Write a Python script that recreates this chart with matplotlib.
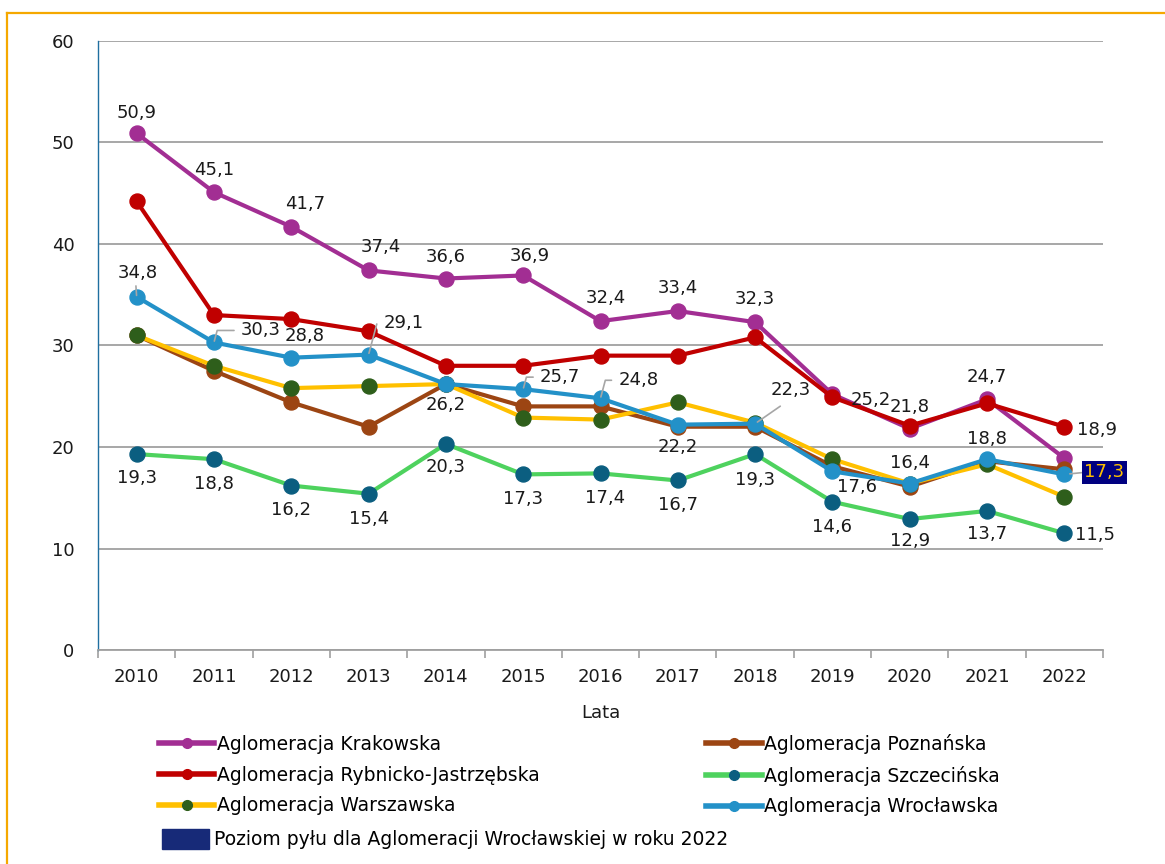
import matplotlib
matplotlib.use('Agg')
from matplotlib import pyplot as plt
from matplotlib.lines import Line2D
from matplotlib.patches import Patch
import numpy as np

plt.rcParams['font.family'] = ['DejaVu Sans']

# Data
years = [2010, 2011, 2012, 2013, 2014, 2015, 2016, 2017, 2018, 2019, 2020, 2021, 2022]
krakowska = [50.9, 45.1, 41.7, 37.4, 36.6, 36.9, 32.4, 33.4, 32.3, 25.2, 21.8, 24.7, 18.9]
rybnicko = [44.2, 33.0, 32.6, 31.4, 28.0, 28.0, 29.0, 29.0, 30.8, 24.9, 22.1, 24.3, 22.0]
poznanska = [31.0, 27.5, 24.4, 22.0, 26.2, 24.0, 24.0, 22.0, 22.0, 18.1, 16.1, 18.6, 17.8]
szczecinska = [19.3, 18.8, 16.2, 15.4, 20.3, 17.3, 17.4, 16.7, 19.3, 14.6, 12.9, 13.7, 11.5]
warszawska = [31.0, 28.0, 25.8, 26.0, 26.2, 22.9, 22.7, 24.4, 22.4, 18.8, 16.4, 18.3, 15.1]
wroclawska = [34.8, 30.3, 28.8, 29.1, 26.2, 25.7, 24.8, 22.2, 22.3, 17.6, 16.4, 18.8, 17.3]

# label offsets in pixels (dx, dy)
krak_off = [(0, 20), (0, 22), (14, 23), (12, 23), (0, 22), (7, 19), (5, 23),
            (0, 23), (0, 23), (38, -6), (0, 22), (0, 22), (33, 28)]
wroc_off = [(1, 24), (47, 12), (13, 22), (35, 32), (0, -21), (37, 12), (38, 18),
            (0, -22), (36, 34), (25, -16), (0, 21), (0, 20), None]
wroc_lead = [1, 2, 0, 2, 0, 2, 2, 0, 3, 0, 0, 0, 0]
szcz_off = [(0, -24), (0, -25), (0, -24), (0, -25), (0, -23), (0, -25), (5, -25),
            (0, -25), (0, -26), (0, -25), (0, -22), (0, -23), (31, -2)]

fig = plt.figure(figsize=(11.65, 8.64), dpi=100)
ax = fig.add_axes([98 / 1165, 1 - 650 / 864, 1005 / 1165, 609 / 864])

x = np.arange(len(years))
series = [
    ('Aglomeracja Szczecińska', szczecinska, '#4ED25E', '#0B5E80'),
    ('Aglomeracja Krakowska', krakowska, '#A22E93', '#A22E93'),
    ('Aglomeracja Rybnicko-Jastrzębska', rybnicko, '#C00000', '#C00000'),
    ('Aglomeracja Poznańska', poznanska, '#9C4513', '#9C4513'),
    ('Aglomeracja Warszawska', warszawska, '#FFC000', '#2E5E1B'),
    ('Aglomeracja Wrocławska', wroclawska, '#2391C8', '#2391C8'),
]
handles = {}
for name, vals, lc, mc in series:
    ax.plot(x, vals, color=lc, lw=3, marker='o', ms=10.8,
            mfc=mc, mec=mc, solid_capstyle='round')
    handles[name] = (lc, mc)


def fmt(v):
    return ('%.1f' % v).replace('.', ',')


fs = 13
lead = dict(arrowstyle='-', color='#A6A6A6', lw=1.2)
for i, v in enumerate(krakowska):
    dx, dy = krak_off[i]
    ax.annotate(fmt(v), (x[i], v), xytext=(dx, dy), textcoords='offset pixels',
                ha='center', va='center', fontsize=fs, color='#1a1a1a')
for i, v in enumerate(szczecinska):
    dx, dy = szcz_off[i]
    ax.annotate(fmt(v), (x[i], v), xytext=(dx, dy), textcoords='offset pixels',
                ha='center', va='center', fontsize=fs, color='#1a1a1a')
for i, v in enumerate(wroclawska):
    if wroc_off[i] is None:
        continue
    dx, dy = wroc_off[i]
    ap = None
    if wroc_lead[i] == 1:
        ap = dict(lead, shrinkA=1, shrinkB=1, relpos=(0.45, 0.0))
    elif wroc_lead[i] == 2:
        ap = dict(lead, shrinkA=3, shrinkB=1, relpos=(0.0, 0.5),
                  connectionstyle='angle,angleA=180,angleB=75,rad=0')
    elif wroc_lead[i] == 3:
        ap = dict(lead, shrinkA=6, shrinkB=2, relpos=(0.5, 0.0))
    ax.annotate(fmt(v), (x[i], v), xytext=(dx, dy), textcoords='offset pixels',
                ha='center', va='center', fontsize=fs, color='#1a1a1a',
                arrowprops=ap)

# highlighted 2022 value for Wroclaw
ax.annotate(fmt(wroclawska[-1]), (x[-1], wroclawska[-1]), xytext=(40, 2),
            textcoords='offset pixels', ha='center', va='center', fontsize=fs,
            color='#FFC000',
            bbox=dict(boxstyle='square,pad=0.15', fc='#000080', ec='none'),
            arrowprops=dict(lead, shrinkA=0, shrinkB=4, relpos=(0.0, 0.5)))

ax.set_xlim(-0.5, len(years) - 0.5)
ax.set_ylim(0, 60)
ax.set_yticks(range(0, 61, 10))
ax.set_xticks(x)
ax.set_xticklabels([str(y) for y in years])
ax.set_xticks(np.arange(-0.5, len(years), 1), minor=True)
ax.tick_params(axis='x', which='major', length=0, pad=13, labelsize=fs, colors='#1a1a1a')
ax.tick_params(axis='x', which='minor', length=6, color='#A0A0A0', width=1.2)
ax.tick_params(axis='y', length=0, pad=17, labelsize=fs, colors='#1a1a1a')
ax.grid(axis='y', color='#A0A0A0', lw=1.3)
ax.set_axisbelow(True)
for s in ['top', 'right']:
    ax.spines[s].set_visible(False)
ax.spines['bottom'].set_color('#A0A0A0')
ax.spines['bottom'].set_linewidth(1.3)
ax.spines['left'].set_color('#1F6FA0')
ax.spines['left'].set_linewidth(1.0)
ax.set_xlabel('Lata', fontsize=fs, labelpad=13, color='#1a1a1a')

# legend
order = ['Aglomeracja Krakowska', 'Aglomeracja Rybnicko-Jastrzębska',
         'Aglomeracja Warszawska', 'Aglomeracja Poznańska',
         'Aglomeracja Szczecińska', 'Aglomeracja Wrocławska']
leg_h = [Line2D([], [], color=handles[n][0], lw=4, marker='o', ms=7,
                mfc=handles[n][1], mec=handles[n][1]) for n in order]
lfs = 13.5
fig.legend(leg_h, order, loc='upper left', ncol=2,
           bbox_to_anchor=(159 / 1165, 1 - 734 / 864), frameon=False,
           fontsize=lfs, handlelength=2.95, handletextpad=0.12,
           columnspacing=8.9, labelspacing=0.62, borderpad=0,
           borderaxespad=0)
fig.legend([Patch(color='#172A78')], ['Poziom pyłu dla Aglomeracji Wrocławskiej w roku 2022'],
           loc='upper left', bbox_to_anchor=(162 / 1165, 1 - 829 / 864),
           frameon=False, fontsize=lfs, handlelength=2.5, handleheight=1.25,
           handletextpad=0.3, borderpad=0, borderaxespad=0)

# orange frame
fig.add_artist(Line2D([7 / 1165, 7 / 1165], [0, 1 - 13 / 864], color='#F5A800', lw=1.6))
fig.add_artist(Line2D([7 / 1165, 1], [1 - 13 / 864, 1 - 13 / 864], color='#F5A800', lw=1.6))

fig.savefig('out.png', dpi=100)
